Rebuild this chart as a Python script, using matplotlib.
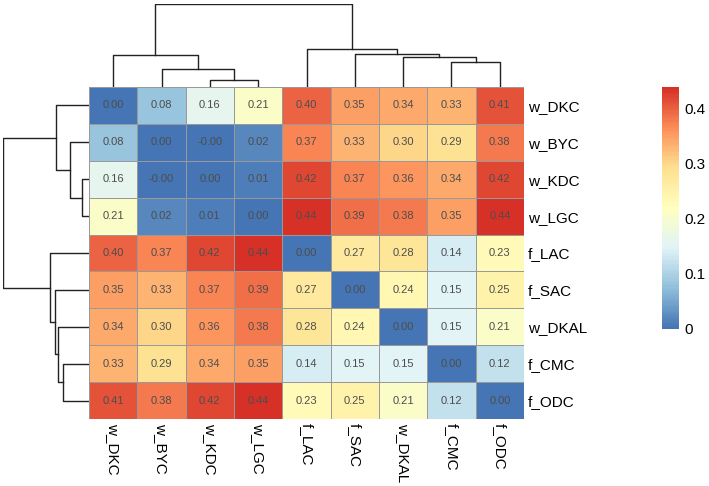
import numpy as np
import matplotlib.pyplot as plt
from matplotlib.colors import LinearSegmentedColormap, Normalize
from matplotlib.cm import ScalarMappable

plt.rcParams['font.family'] = ['Liberation Sans', 'DejaVu Sans']

# labels in clustered (display) order
labels = ['w_DKC', 'w_BYC', 'w_KDC', 'w_LGC', 'f_LAC', 'f_SAC', 'w_DKAL', 'f_CMC', 'f_ODC']

values = np.array([
    [0.00, 0.08, 0.16, 0.21, 0.40, 0.35, 0.34, 0.33, 0.41],
    [0.08, 0.00, -0.001, 0.02, 0.37, 0.33, 0.30, 0.29, 0.38],
    [0.16, -0.001, 0.00, 0.01, 0.42, 0.37, 0.36, 0.34, 0.42],
    [0.21, 0.02, 0.01, 0.00, 0.44, 0.39, 0.38, 0.35, 0.44],
    [0.40, 0.37, 0.42, 0.44, 0.00, 0.27, 0.28, 0.14, 0.23],
    [0.35, 0.33, 0.37, 0.39, 0.27, 0.00, 0.24, 0.15, 0.25],
    [0.34, 0.30, 0.36, 0.38, 0.28, 0.24, 0.00, 0.15, 0.21],
    [0.33, 0.29, 0.34, 0.35, 0.14, 0.15, 0.15, 0.00, 0.12],
    [0.41, 0.38, 0.42, 0.44, 0.23, 0.25, 0.21, 0.12, 0.00],
])

# dendrogram merges (same tree for rows and columns); new nodes get ids 9, 10, ...
merge_a = [2, 1, 0, 7, 6, 5, 4, 11]
merge_b = [3, 9, 10, 8, 12, 13, 14, 15]
merge_h = [7, 18.3, 33, 26, 30.7, 33.7, 38.7, 85]

cbar_ticks = [0, 0.1, 0.2, 0.3, 0.4]
cbar_labels = ['0', '0.1', '0.2', '0.3', '0.4']

# pheatmap default palette: rev(brewer.pal(7, "RdYlBu"))
palette = ['#4575B4', '#91BFDB', '#E0F3F8', '#FFFFBF', '#FEE090', '#FC8D59', '#D73027']
cmap = LinearSegmentedColormap.from_list('rdylbu', palette, N=100)
norm = Normalize(vmin=values.min(), vmax=values.max())

W, H = 709, 486
fig = plt.figure(figsize=(W / 100, H / 100), dpi=100)


def px_axes(x0, y0, x1, y1):
    return fig.add_axes([x0 / W, 1 - y1 / H, (x1 - x0) / W, (y1 - y0) / H])


def draw_dendro(ax, horizontal):
    xs = {i: i + 0.5 for i in range(len(labels))}
    hs = {i: 0.0 for i in range(len(labels))}
    node = len(labels)
    for a, b, h in zip(merge_a, merge_b, merge_h):
        px = [xs[a], xs[a], xs[b], xs[b]]
        py = [hs[a], h, h, hs[b]]
        if horizontal:
            ax.plot(py, px, color='#222222', lw=1)
        else:
            ax.plot(px, py, color='#222222', lw=1)
        xs[node] = (xs[a] + xs[b]) / 2
        hs[node] = h
        node += 1
    ax.axis('off')


# heatmap
hx0, hy0, hx1, hy1 = 89, 87, 524, 419
ax = px_axes(hx0, hy0, hx1, hy1)
n = len(labels)
ax.pcolormesh(np.arange(n + 1), np.arange(n + 1), values, cmap=cmap, norm=norm,
              edgecolors='#999999', linewidth=0.6)
ax.set_xlim(0, n)
ax.set_ylim(n, 0)
for i in range(n):
    for j in range(n):
        ax.text(j + 0.5, i + 0.5, '%.2f' % values[i, j], ha='center', va='center',
                fontsize=8, color='#4D4D4D')
ax.set_xticks(np.arange(n) + 0.5)
ax.set_xticklabels(labels, rotation=270, fontsize=11, va='top', ha='center')
ax.set_yticks(np.arange(n) + 0.5)
ax.set_yticklabels(labels, fontsize=11)
ax.yaxis.tick_right()
ax.tick_params(length=0, pad=3)
for s in ax.spines.values():
    s.set_visible(False)

# column dendrogram
axt = px_axes(hx0, 4, hx1, hy0)
draw_dendro(axt, horizontal=False)
axt.set_xlim(0, n)
axt.set_ylim(0, max(merge_h))

# row dendrogram
axl = px_axes(3, hy0, hx0, hy1)
draw_dendro(axl, horizontal=True)
axl.set_ylim(n, 0)
axl.set_xlim(max(merge_h), 0)

# colour legend
axc = px_axes(662, 87, 679, 329)
cb = fig.colorbar(ScalarMappable(norm=norm, cmap=cmap), cax=axc)
cb.outline.set_visible(False)
cb.set_ticks(cbar_ticks)
cb.set_ticklabels(cbar_labels)
axc.tick_params(length=0, labelsize=11, pad=4)

fig.savefig('out.png', dpi=100)
